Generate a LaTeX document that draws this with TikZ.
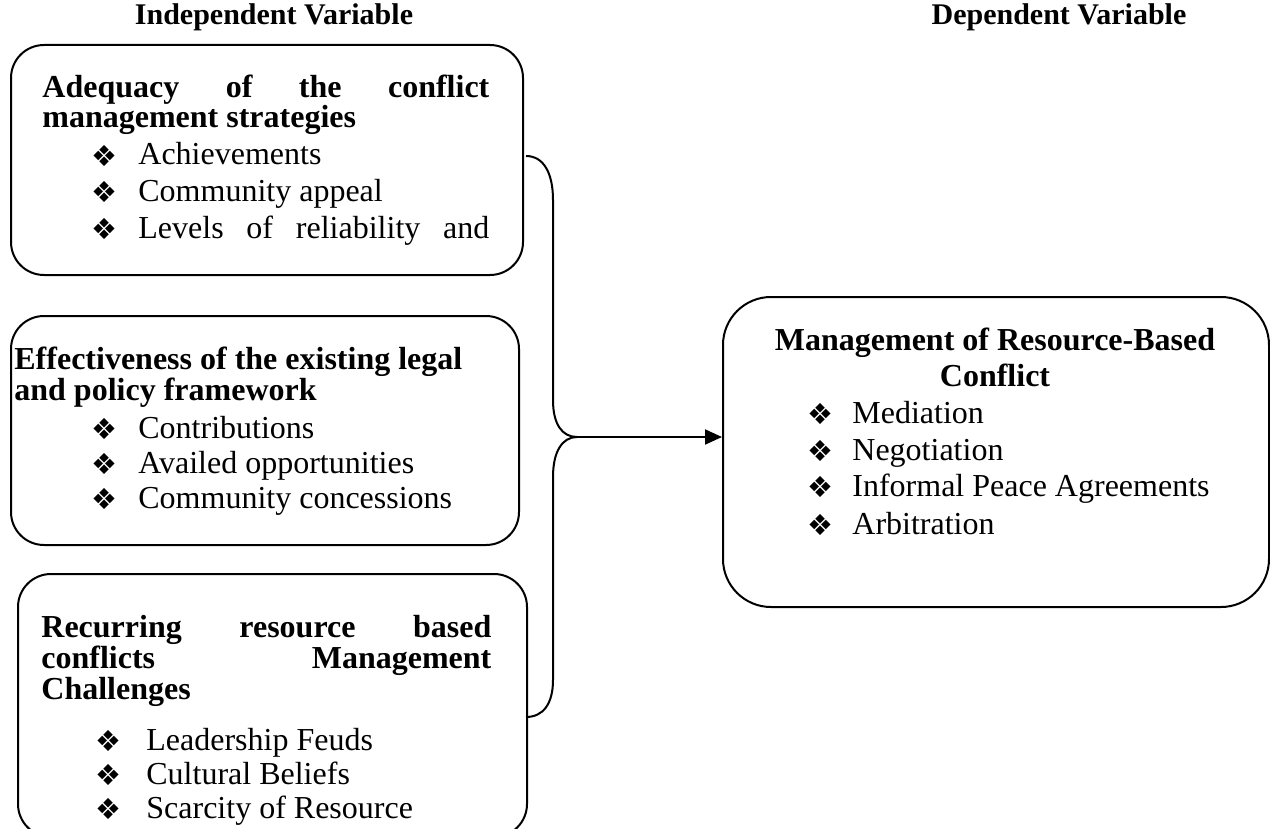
\documentclass[tikz,border=0pt]{standalone}
\usepackage{fontspec}
\setmainfont{Liberation Serif}
\newfontfamily\symfont{DejaVu Sans}
\usetikzlibrary{arrows.meta}
\newcommand\bul{{\symfont\fontsize{14.5}{14.5}\selectfont\symbol{"2756}}}

\begin{document}
\begin{tikzpicture}[
  x=0.5pt,
  y=-0.5pt,
  line join=round,
  panel/.style={draw,line width=1pt,rounded corners=16.5pt,inner sep=0pt,anchor=north west},
  head/.style={anchor=base west,inner sep=0pt,font=\fontsize{16}{19}\selectfont\bfseries},
  item/.style={anchor=base west,inner sep=0pt,font=\fontsize{16}{19}\selectfont},
  bulletmark/.style={anchor=center,inner sep=0pt},
  colhead/.style={anchor=base,inner sep=0pt,font=\fontsize{15}{18}\selectfont\bfseries},
  link/.style={draw,line width=1pt}
]
  \clip (0,0) rectangle (1270,829);

  % Column titles.
  \node[colhead] (indep) at (274,25) {Independent Variable};
  \node[colhead] (dep) at (1059,25) {Dependent Variable};

  % Independent variable panels.
  \node[panel,minimum width=256pt,minimum height=115pt] (adequacy) at (10,44) {};
  \node[panel,minimum width=254pt,minimum height=114.5pt] (framework) at (10,315) {};
  \node[panel,minimum width=254.5pt,minimum height=131.5pt] (challenges) at (17,573) {};

  % Dependent variable panel.
  \node[panel,rounded corners=24pt,minimum width=273pt,minimum height=155pt] (outcome) at (722,296) {};

  % Panel headings.
  \node[head] (adequacy-h1) at (42,98) {\makebox[223.5pt][s]{Adequacy of the conflict}};
  \node[head] (adequacy-h2) at (42,128) {management strategies};
  \node[head] (framework-h1) at (14,369) {Effectiveness of the existing legal};
  \node[head] (framework-h2) at (14,400) {and policy framework};
  \node[head] (challenges-h1) at (41,637) {\makebox[225pt][s]{Recurring resource based}};
  \node[head] (challenges-h2) at (41,668) {\makebox[225pt][s]{conflicts Management}};
  \node[head] (challenges-h3) at (41,699) {Challenges};
  \node[head,anchor=base] (outcome-h1) at (995,350) {Management of Resource-Based};
  \node[head,anchor=base] (outcome-h2) at (995,386) {Conflict};

  % Bullet lists.
  \foreach \txt/\yy [count=\i] in {Achievements/165,Community appeal/201,{\makebox[175.5pt][s]{Levels of reliability and}}/238} {
    \node[bulletmark] (adequacy-b\i) at (104,\yy-9) {\bul};
    \node[item] (adequacy-t\i) at (138,\yy) {\txt};
  }
  \foreach \txt/\yy [count=\i] in {Contributions/438,Availed opportunities/473,Community concessions/508} {
    \node[bulletmark] (framework-b\i) at (104,\yy-9) {\bul};
    \node[item] (framework-t\i) at (138,\yy) {\txt};
  }
  \foreach \txt/\yy [count=\i] in {Leadership Feuds/750,Cultural Beliefs/784,Scarcity of Resource/818} {
    \node[bulletmark] (challenges-b\i) at (108,\yy-9) {\bul};
    \node[item] (challenges-t\i) at (146,\yy) {\txt};
  }
  \foreach \txt/\yy [count=\i] in {Mediation/423,Negotiation/460,Informal Peace Agreements/496,Arbitration/534} {
    \node[bulletmark] (outcome-b\i) at (820,\yy-9) {\bul};
    \node[item] (outcome-t\i) at (852,\yy) {\txt};
  }

  % Brace gathering the three panels.
  \coordinate (bracetop) at (526,156);
  \coordinate (bracetip) at (577,437);
  \coordinate (bracebot) at (526,717);
  \draw[link] (bracetop) .. controls (543,156) and (553,172) .. (553,200) -- (553,400)
    .. controls (553,424) and (562,437) .. (bracetip);
  \draw[link] (bracetip) .. controls (562,437) and (553,452) .. (553,477) -- (553,680)
    .. controls (553,704) and (543,717) .. (bracebot);
  \draw[link,-{Triangle[length=8.5pt,width=7.5pt]}] (bracetip) -- (bracetip -| outcome.west);
\end{tikzpicture}
\end{document}
